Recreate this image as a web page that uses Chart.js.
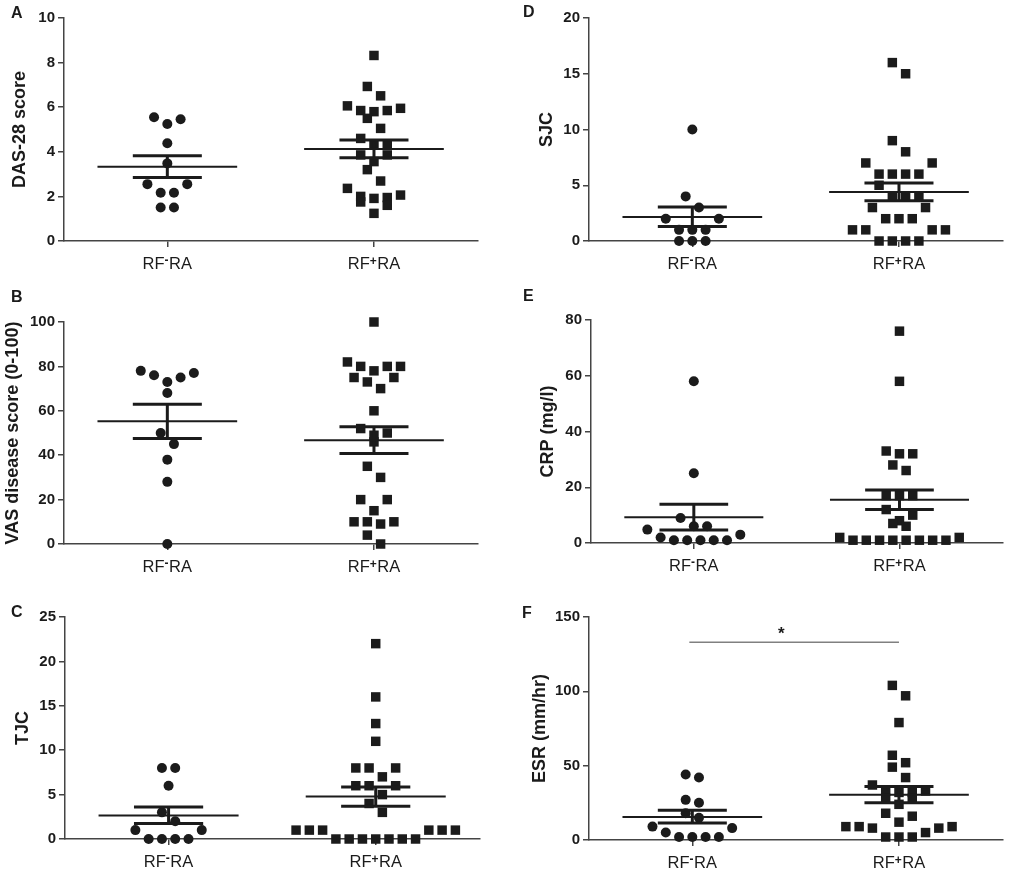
<!DOCTYPE html>
<html>
<head>
<meta charset="utf-8">
<script src="https://cdn.jsdelivr.net/npm/chart.js@4.4.1/dist/chart.umd.min.js"></script>
<style>
  body { margin: 0; background: #fff; }
  #page { position: relative; width: 1009px; height: 872px; overflow: hidden; background: #fff; }
  .letter { position: absolute; font: bold 16px "Liberation Sans", Arial, sans-serif; line-height: 16px; color: #1b1b1b; }
</style>
</head>
<body>
<div id="page"></div>
<script>
// group names: "RF" + superscript sign + "RA"
const groupSigns = ['-', '+'];
const groupPre = 'RF', groupPost = 'RA';

// A - DAS-28
const dasNeg = [5.55, 5.46, 5.25, 4.38, 3.48, 2.55, 2.55, 2.16, 2.16, 1.5, 1.5];
const dasPos = [8.32, 6.93, 6.51, 6.06, 5.95, 5.85, 5.85, 5.8, 5.5, 5.05, 4.6, 4.35, 4.35,
                3.86, 3.86, 3.56, 3.2, 2.69, 2.36, 2.06, 2.0, 1.95, 1.91, 1.75, 1.6, 1.24];
const dasMean = [3.33, 4.12];
const dasSemLo = [2.85, 3.73];
const dasSemHi = [3.82, 4.53];
const dasTicks = [0, 2, 4, 6, 8, 10];

// B - VAS
const vasNeg = [78, 77, 76, 75, 73, 68, 50, 45, 38, 28, 0];
const vasPos = [100, 82, 80, 80, 80, 78, 75, 75, 73, 70, 60, 52, 50, 49, 46, 35, 30,
                20, 20, 15, 10, 10, 10, 9, 4, 0];
const vasMean = [55.3, 46.7];
const vasSemLo = [47.5, 40.8];
const vasSemHi = [63, 52.8];
const vasTicks = [0, 20, 40, 60, 80, 100];

// C - TJC
const tjcNeg = [8, 8, 6, 3, 2, 1, 1, 0, 0, 0, 0];
const tjcPos = [22, 16, 13, 11, 8, 8, 8, 7, 6, 6, 6, 5, 4, 3, 1, 1, 1, 1, 1, 1,
                0, 0, 0, 0, 0, 0, 0];
const tjcMean = [2.65, 4.8];
const tjcSemLo = [1.75, 3.7];
const tjcSemHi = [3.6, 5.85];
const tjcTicks = [0, 5, 10, 15, 20, 25];

// D - SJC
const sjcNeg = [10, 4, 3, 2, 2, 1, 1, 1, 0, 0, 0];
const sjcPos = [16, 15, 9, 8, 7, 7, 6, 6, 6, 6, 5, 4, 4, 4, 3, 3, 2, 2, 2,
                1, 1, 1, 1, 0, 0, 0, 0];
const sjcMean = [2.15, 4.4];
const sjcSemLo = [1.3, 3.6];
const sjcSemHi = [3.05, 5.2];
const sjcTicks = [0, 5, 10, 15, 20];

// E - CRP
const crpNeg = [58, 25, 9, 6, 6, 4.8, 3, 2, 1, 1, 1, 1, 1];
const crpPos = [76, 58, 33, 32, 32, 28, 26, 17, 17, 17, 12, 10, 8, 7, 6, 2, 2,
                1, 1, 1, 1, 1, 1, 1, 1];
const crpMean = [9.2, 15.5];
const crpSemLo = [4.7, 12.0];
const crpSemHi = [13.9, 19.0];
const crpTicks = [0, 20, 40, 60, 80];

// F - ESR
const esrNeg = [44, 42, 27, 25, 18, 15, 9, 8, 5, 2, 2, 2, 2];
const esrPos = [104, 97, 79, 57, 52, 49, 42, 37, 33, 33, 32, 32, 28, 28, 24, 18, 16, 12,
                9, 9, 9, 8, 8, 5, 2, 2, 2];
const esrMean = [15.5, 30.5];
const esrSemLo = [11.5, 25];
const esrSemHi = [20, 36];
const esrTicks = [0, 50, 100, 150];
const esrSigY = 133;   // significance bar between the groups
const esrSigText = '*';

// layout: plot area [left, top, right, bottom] in page pixels
const panels = [
  { letter: 'A', title: 'DAS-28 score', neg: dasNeg, pos: dasPos, mean: dasMean, lo: dasSemLo, hi: dasSemHi,
    ticks: dasTicks, area: [64, 18, 478, 241], titleX: 20, letterAt: [17, 13] },
  { letter: 'B', title: 'VAS disease score (0-100)', neg: vasNeg, pos: vasPos, mean: vasMean, lo: vasSemLo, hi: vasSemHi,
    ticks: vasTicks, area: [64, 322, 478, 544], titleX: 13, letterAt: [17, 297] },
  { letter: 'C', title: 'TJC', neg: tjcNeg, pos: tjcPos, mean: tjcMean, lo: tjcSemLo, hi: tjcSemHi,
    ticks: tjcTicks, area: [65, 617, 480, 839], titleX: 23, letterAt: [17, 612] },
  { letter: 'D', title: 'SJC', neg: sjcNeg, pos: sjcPos, mean: sjcMean, lo: sjcSemLo, hi: sjcSemHi,
    ticks: sjcTicks, area: [589, 18, 1003, 241], titleX: 547, letterAt: [529, 12] },
  { letter: 'E', title: 'CRP (mg/l)', neg: crpNeg, pos: crpPos, mean: crpMean, lo: crpSemLo, hi: crpSemHi,
    ticks: crpTicks, area: [591, 320, 1003, 543], titleX: 548, letterAt: [529, 296] },
  { letter: 'F', title: 'ESR (mm/hr)', neg: esrNeg, pos: esrPos, mean: esrMean, lo: esrSemLo, hi: esrSemHi,
    ticks: esrTicks, area: [589, 617, 1003, 840], titleX: 540, letterAt: [528, 613], sig: true }
];

const AXIS_W = 64, AXIS_H = 40, PAD_T = 18, PAD_R = 6;
const STEP_PX = 13.3;   // horizontal spacing of dots in a row
const BIN_PX = 11.5;    // dots closer than this vertically share a row
const MEAN_HALF = 0.338, SEM_HALF = 0.167;
const ink = '#1b1b1b', axisColor = '#444';
const FAMILY = '"Liberation Sans", Arial, sans-serif';
const TITLE_SIZE = 18;

Chart.defaults.font.family = FAMILY;
Chart.defaults.color = ink;

// Prism-like column scatter: rows of nearby values are spread around the group centre
function swarm(values, group, pxPerY, pxPerX) {
  const sorted = values.slice().sort((a, b) => b - a);
  const out = [];
  let i = 0;
  while (i < sorted.length) {
    const start = sorted[i];
    const row = [];
    while (i < sorted.length && (start - sorted[i]) * pxPerY <= BIN_PX + 1e-6) {
      row.push(sorted[i]);
      i++;
    }
    row.sort((a, b) => a - b);
    const n = row.length;
    const slots = [];
    if (n % 2) {
      slots.push(0);
      for (let k = 1; slots.length < n; k++) {
        slots.push(k);
        if (slots.length < n) slots.push(-k);
      }
    } else {
      for (let k = 0.5; slots.length < n; k++) {
        slots.push(k);
        slots.push(-k);
      }
    }
    row.forEach((v, j) => out.push({ x: group + slots[j] * STEP_PX / pxPerX, y: v }));
  }
  return out;
}

const seg = (pts, w) => ({
  data: pts, showLine: true, borderColor: ink, borderWidth: w, borderCapStyle: 'butt',
  pointRadius: 0, pointHoverRadius: 0, clip: false
});

const dots = (pts, style, r) => ({
  data: pts, pointStyle: style, pointRadius: r, pointHoverRadius: r,
  backgroundColor: ink, borderWidth: 0, clip: false
});

// x labels with a raised sign, e.g. RF⁺RA
const groupLabels = {
  id: 'groupLabels',
  afterDraw(chart) {
    const { ctx, scales: { x }, chartArea } = chart;
    const base = chartArea.bottom + 28;
    const main = `16.5px ${FAMILY}`, sup = `bold 12px ${FAMILY}`;
    ctx.save();
    ctx.fillStyle = ink;
    ctx.textBaseline = 'alphabetic';
    ctx.textAlign = 'left';
    groupSigns.forEach((sign, i) => {
      ctx.font = main;
      const w1 = ctx.measureText(groupPre).width;
      const w3 = ctx.measureText(groupPost).width;
      ctx.font = sup;
      const w2 = ctx.measureText(sign).width + 0.5;
      let px = x.getPixelForValue(i) - (w1 + w2 + w3) / 2;
      ctx.font = main;
      ctx.fillText(groupPre, px, base);
      px += w1;
      ctx.font = sup;
      ctx.fillText(sign, px, base - (sign === '+' ? 4.5 : 5.5));
      px += w2;
      ctx.font = main;
      ctx.fillText(groupPost, px, base);
    });
    ctx.restore();
  }
};

const sigPlugin = {
  id: 'sig',
  afterDatasetsDraw(chart) {
    const { ctx, scales: { x, y } } = chart;
    const py = y.getPixelForValue(esrSigY);
    const x0 = x.getPixelForValue(0), x1 = x.getPixelForValue(1);
    ctx.save();
    ctx.strokeStyle = '#808080';
    ctx.lineWidth = 1.6;
    ctx.beginPath();
    ctx.moveTo(x0 - 3, py);
    ctx.lineTo(x1, py);
    ctx.stroke();
    ctx.fillStyle = ink;
    ctx.font = `bold 17px ${FAMILY}`;
    ctx.textAlign = 'center';
    ctx.textBaseline = 'alphabetic';
    ctx.fillText(esrSigText, x.getPixelForValue(0.43), py - 3);
    ctx.restore();
  }
};

const page = document.getElementById('page');

panels.forEach(p => {
  const [l, t, r, b] = p.area;
  const cw = AXIS_W + (r - l) + PAD_R;
  const ch = PAD_T + (b - t) + AXIS_H;
  const cv = document.createElement('canvas');
  cv.width = cw;
  cv.height = ch;
  cv.style.cssText = `position:absolute;left:${l - AXIS_W}px;top:${t - PAD_T}px;width:${cw}px;height:${ch}px`;
  page.appendChild(cv);

  const yMax = p.ticks[p.ticks.length - 1];
  const pxPerY = (b - t) / yMax;
  const pxPerX = (r - l) / 2;

  const datasets = [];
  [0, 1].forEach(g => {
    const m = p.mean[g], lo = p.lo[g], hi = p.hi[g];
    datasets.push(seg([{ x: g - MEAN_HALF, y: m }, { x: g + MEAN_HALF, y: m }], 2));
    datasets.push(seg([{ x: g - SEM_HALF, y: lo }, { x: g + SEM_HALF, y: lo }], 3));
    datasets.push(seg([{ x: g - SEM_HALF, y: hi }, { x: g + SEM_HALF, y: hi }], 3));
    datasets.push(seg([{ x: g, y: lo }, { x: g, y: hi }], 3));
  });
  datasets.push(dots(swarm(p.neg, 0, pxPerY, pxPerX), 'circle', 5));
  datasets.push(dots(swarm(p.pos, 1, pxPerY, pxPerX), 'rect', 6.7));

  const axisGrid = { drawOnChartArea: false, drawTicks: true, tickLength: 6, color: axisColor, lineWidth: 1.5 };
  const axisBorder = { color: axisColor, width: 1.5 };

  new Chart(cv, {
    type: 'scatter',
    data: { datasets },
    options: {
      responsive: false,
      animation: false,
      events: [],
      layout: { padding: { left: 0, top: PAD_T, right: PAD_R, bottom: 0 } },
      plugins: { legend: { display: false }, tooltip: { enabled: false } },
      scales: {
        x: {
          type: 'linear', min: -0.5, max: 1.5,
          afterBuildTicks: s => { s.ticks = [{ value: 0 }, { value: 1 }]; },
          afterFit: s => { s.height = AXIS_H; },
          ticks: { callback: () => '', maxRotation: 0, autoSkip: false },
          grid: axisGrid,
          border: axisBorder
        },
        y: {
          min: 0, max: yMax,
          afterBuildTicks: s => { s.ticks = p.ticks.map(v => ({ value: v })); },
          afterFit: s => { s.width = AXIS_W; },
          ticks: { font: { size: 15, weight: 'bold' }, color: ink, padding: 3 },
          grid: axisGrid,
          border: axisBorder,
          title: {
            display: true, text: p.title, color: ink,
            font: { size: TITLE_SIZE, weight: 'bold' },
            padding: { top: p.titleX - (l - AXIS_W) - TITLE_SIZE * 0.6, bottom: 0 }
          }
        }
      }
    },
    plugins: p.sig ? [groupLabels, sigPlugin] : [groupLabels]
  });

  const lt = document.createElement('div');
  lt.className = 'letter';
  lt.textContent = p.letter;
  lt.style.left = (p.letterAt[0] - 6) + 'px';
  lt.style.top = (p.letterAt[1] - 7.8) + 'px';
  page.appendChild(lt);
});
</script>
</body>
</html>
